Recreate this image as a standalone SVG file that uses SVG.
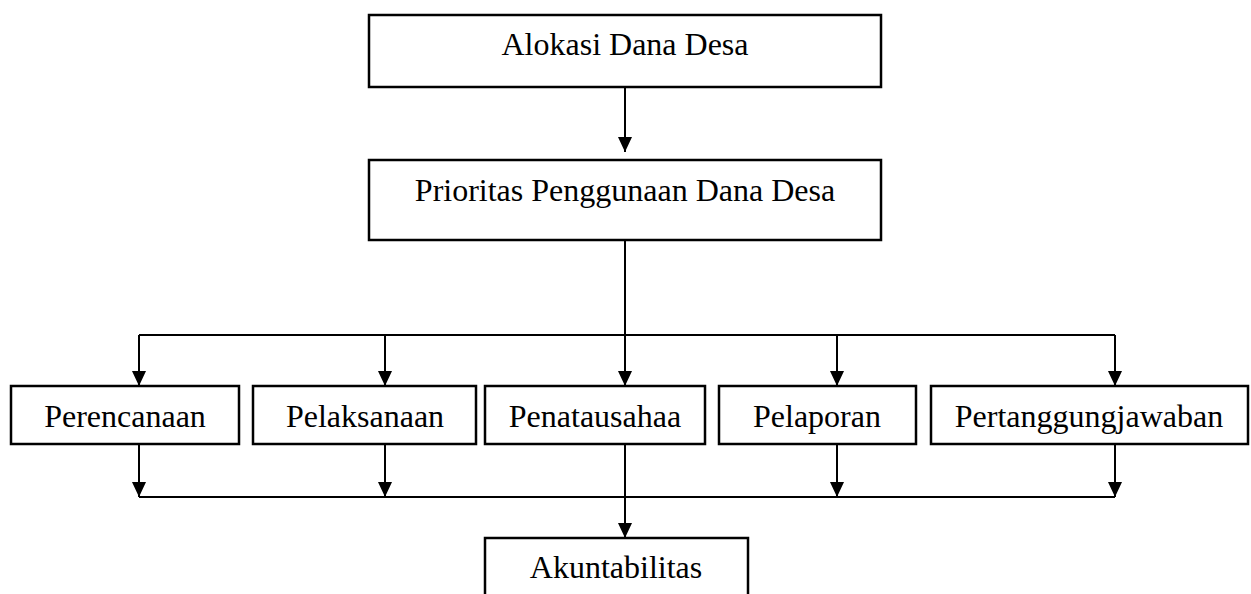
<svg xmlns="http://www.w3.org/2000/svg" width="1251" height="594" viewBox="0 0 1251 594">
<defs>
<marker id="ah" markerUnits="userSpaceOnUse" markerWidth="16" markerHeight="16" viewBox="0 0 16 16" refX="15" refY="8" orient="auto">
<path d="M0,1 L15,8 L0,15 Z" fill="#000"/>
</marker>
<style>
.box{fill:#fff;stroke:#000;stroke-width:2.5}
.t{font-family:"Liberation Serif","Times New Roman",serif;font-size:32px;fill:#000;text-anchor:middle}
.c{fill:none;stroke:#000;stroke-width:2}
.a{fill:none;stroke:#000;stroke-width:2;marker-end:url(#ah)}
</style>
</defs>
<rect width="1251" height="594" fill="#fff"/>
<g id="connectors">
<line class="a" x1="625" y1="87" x2="625" y2="152"/>
<line class="c" x1="625" y1="240" x2="625" y2="335"/>
<line class="c" x1="139" y1="335" x2="1115" y2="335"/>
<line class="a" x1="139" y1="335" x2="139" y2="386"/>
<line class="a" x1="385" y1="335" x2="385" y2="386"/>
<line class="a" x1="625" y1="335" x2="625" y2="386"/>
<line class="a" x1="837" y1="335" x2="837" y2="386"/>
<line class="a" x1="1115" y1="335" x2="1115" y2="386"/>
<line class="a" x1="139" y1="444" x2="139" y2="497"/>
<line class="a" x1="385" y1="444" x2="385" y2="497"/>
<line class="a" x1="837" y1="444" x2="837" y2="497"/>
<line class="a" x1="1115" y1="444" x2="1115" y2="497"/>
<line class="c" x1="139" y1="497" x2="1115" y2="497"/>
<line class="a" x1="625" y1="444" x2="625" y2="538"/>
</g>
<g id="n-alokasi"><rect class="box" x="369" y="15" width="512" height="72"/><text class="t" x="625" y="55">Alokasi Dana Desa</text></g>
<g id="n-prioritas"><rect class="box" x="369" y="160" width="512" height="80"/><text class="t" x="625" y="201">Prioritas Penggunaan Dana Desa</text></g>
<g id="n-perencanaan"><rect class="box" x="11" y="386" width="228" height="58"/><text class="t" x="125" y="427">Perencanaan</text></g>
<g id="n-pelaksanaan"><rect class="box" x="253" y="386" width="223" height="58"/><text class="t" x="365" y="427">Pelaksanaan</text></g>
<g id="n-penatausahaa"><rect class="box" x="485" y="386" width="220" height="58"/><text class="t" x="595" y="427">Penatausahaa</text></g>
<g id="n-pelaporan"><rect class="box" x="719" y="386" width="197" height="58"/><text class="t" x="817" y="427">Pelaporan</text></g>
<g id="n-pertanggungjawaban"><rect class="box" x="931" y="386" width="317" height="58"/><text class="t" x="1089" y="427">Pertanggungjawaban</text></g>
<g id="n-akuntabilitas"><rect class="box" x="485" y="538" width="263" height="80"/><text class="t" x="616" y="578">Akuntabilitas</text></g>
</svg>
